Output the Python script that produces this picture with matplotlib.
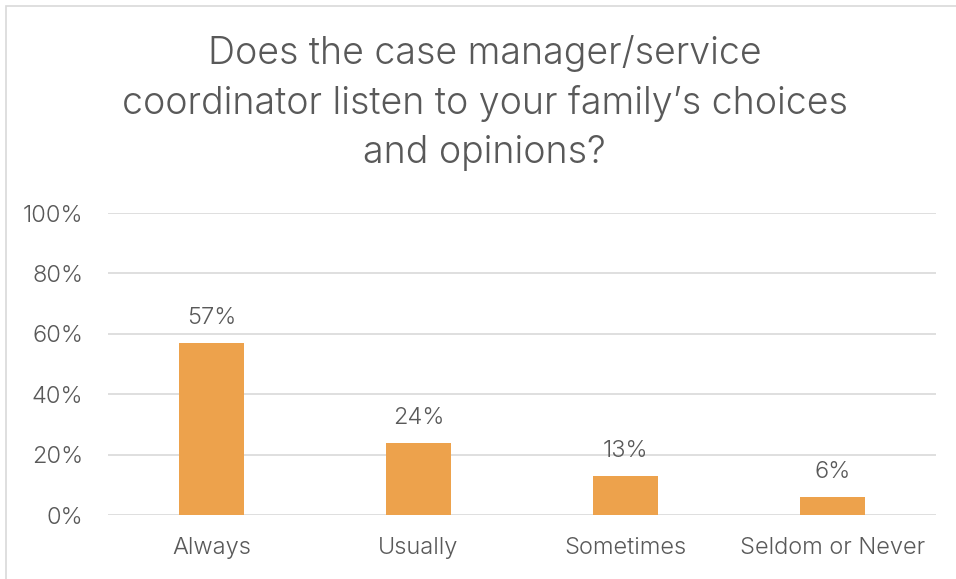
import matplotlib.pyplot as plt
from matplotlib.patches import Rectangle
from matplotlib.ticker import PercentFormatter

# data
categories = ['Always', 'Usually', 'Sometimes', 'Seldom or Never']
values = [57, 24, 13, 6]
title = "Does the case manager/service\ncoordinator listen to your family\u2019s choices\nand opinions?"

plt.rcParams['font.family'] = ['Inter', 'DejaVu Sans']
plt.rcParams['font.weight'] = 300
text_col = '#595959'
grid_col = '#D9D9D9'
bar_col = '#EDA24C'

fig = plt.figure(figsize=(9.56, 5.79), dpi=100)
ax = fig.add_axes([0.113, 0.1105, 0.866, 0.5215])

# chart frame
fig.patches.append(Rectangle((6 / 956, -0.1), 1.2, 1 - 6 / 579 + 0.1,
                             transform=fig.transFigure, fill=False,
                             edgecolor=grid_col, linewidth=1.2))

x = range(len(categories))
bars = ax.bar(x, [v / 100 for v in values], width=0.31, color=bar_col, zorder=3)
for b, v in zip(bars, values):
    ax.text(b.get_x() + b.get_width() / 2, b.get_height() + 0.045, f'{v}%',
            ha='center', va='bottom', fontsize=17, color=text_col)

ax.set_xlim(-0.5, len(categories) - 0.5)
ax.set_ylim(0, 1)
ax.set_yticks([0, 0.2, 0.4, 0.6, 0.8, 1.0])
ax.yaxis.set_major_formatter(PercentFormatter(1.0, decimals=0))
ax.set_xticks(list(x))
ax.set_xticklabels(categories)
ax.tick_params(length=0, labelsize=17, labelcolor=text_col)
ax.tick_params(axis='y', pad=18)
ax.tick_params(axis='x', pad=16)
ax.grid(axis='y', color=grid_col, linewidth=1.2, zorder=0)
for s in ax.spines.values():
    s.set_visible(False)

fig.text(0.507, 0.822, title, ha='center', va='center', fontsize=27,
         color=text_col, linespacing=1.45)

fig.savefig('out.png', dpi=100)
